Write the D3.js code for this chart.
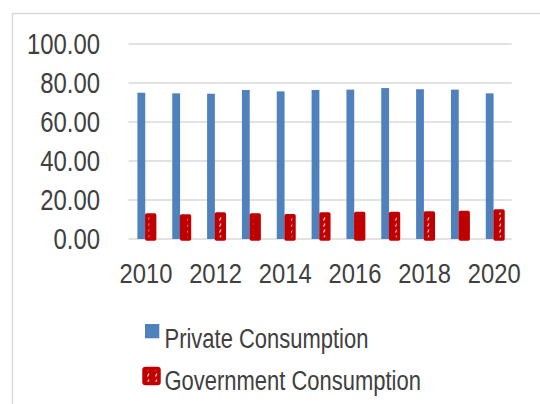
<!DOCTYPE html>
<html>
<head>
<meta charset="utf-8">
<script src="https://cdn.jsdelivr.net/npm/d3@7"></script>
<style>
  body { margin: 0; background: #fff; }
  svg text { font-family: "Liberation Sans Narrow", "Arial Narrow", "Liberation Sans", sans-serif; fill: #404040; }
</style>
</head>
<body>
<div id="chart"></div>
<script>
var years = [2010, 2011, 2012, 2013, 2014, 2015, 2016, 2017, 2018, 2019, 2020];
var privateConsumption = [75.0, 74.7, 74.5, 76.4, 75.7, 76.4, 76.6, 77.4, 76.8, 76.6, 74.7];
var governmentConsumption = [12.3, 11.8, 12.8, 12.3, 11.9, 12.8, 13.1, 13.1, 13.3, 13.6, 14.4];
var yTicks = [0, 20, 40, 60, 80, 100];
var xTickLabels = [2010, 2012, 2014, 2016, 2018, 2020];
var seriesNames = ["Private Consumption", "Government Consumption"];

var width = 540, height = 404;
var blue = "#4f81bd", red = "#c00000";
// no narrow font installed, so squeeze regular sans horizontally
var ySqueeze = "scale(0.81,1)", xSqueeze = "scale(0.85,1)", legendSqueeze = "scale(0.785,1)";

var svg = d3.select("#chart").append("svg")
    .attr("width", width)
    .attr("height", height);

// hatched fill for the government bars
var pat = svg.append("defs").append("pattern")
    .attr("id", "hatch")
    .attr("patternUnits", "userSpaceOnUse")
    .attr("width", 8)
    .attr("height", 6);
pat.append("rect").attr("width", 8).attr("height", 6).attr("fill", red);
pat.append("path")
    .attr("d", "M3.5,4.5 L5,1.5")
    .attr("stroke", "#f4d6d6")
    .attr("stroke-width", 1.3);

// outer chart border
svg.append("rect")
    .attr("x", 12.5).attr("y", 13.5)
    .attr("width", 600).attr("height", 600)
    .attr("fill", "none")
    .attr("stroke", "#d9d9d9")
    .attr("stroke-width", 1.5);

var x = d3.scaleBand().domain(years).range([128.5, 511.7]).padding(0);
var y = d3.scaleLinear().domain([0, 100]).range([239, 44]);

var g = svg.append("g");

// gridlines
g.selectAll(".grid")
    .data(yTicks).enter().append("line")
    .attr("class", "grid")
    .attr("x1", x.range()[0]).attr("x2", x.range()[1])
    .attr("y1", function(d) { return y(d); })
    .attr("y2", function(d) { return y(d); })
    .attr("stroke", "#d9d9d9")
    .attr("stroke-width", 1.5);

// y axis labels
var yAxis = d3.axisLeft(y).tickValues(yTicks).tickFormat(d3.format(".2f")).tickSize(0).tickPadding(0);
var ya = svg.append("g").attr("transform", "translate(100,0)").call(yAxis);
ya.select(".domain").remove();
ya.selectAll("text")
    .style("font-size", "29.5px")
    .attr("fill", "#404040")
    .attr("x", 0)
    .attr("transform", ySqueeze);

var bw = 7.8;

g.selectAll(".priv")
    .data(privateConsumption).enter().append("rect")
    .attr("class", "priv")
    .attr("x", function(d, i) { return x(years[i]) + x.bandwidth() / 2 - bw - 0.7; })
    .attr("y", function(d) { return y(d); })
    .attr("width", bw)
    .attr("height", function(d) { return y(0) - y(d); })
    .attr("fill", blue);

g.selectAll(".gov")
    .data(governmentConsumption).enter().append("rect")
    .attr("class", "gov")
    .attr("x", function(d, i) { return x(years[i]) + x.bandwidth() / 2 + 0.9; })
    .attr("y", function(d) { return y(d); })
    .attr("width", bw)
    .attr("height", function(d) { return y(0) - y(d); })
    .attr("fill", "url(#hatch)")
    .attr("stroke", red)
    .attr("stroke-width", 3.5)
    .attr("stroke-linejoin", "round");

// x axis labels
var xAxis = d3.axisBottom(x).tickValues(xTickLabels).tickSize(0).tickPadding(0);
var xa = svg.append("g").attr("transform", "translate(0,263)").call(xAxis);
xa.select(".domain").remove();
xa.selectAll("text")
    .style("font-size", "28px")
    .attr("fill", "#404040")
    .attr("dy", "0.72em")
    .attr("transform", xSqueeze);

// legend
var legend = svg.append("g");
legend.append("rect")
    .attr("x", 145).attr("y", 324)
    .attr("width", 14.3).attr("height", 14.3)
    .attr("fill", blue);
legend.append("rect")
    .attr("x", 144).attr("y", 368.5)
    .attr("width", 15).attr("height", 15)
    .attr("rx", 1.5)
    .attr("fill", "url(#hatch)")
    .attr("stroke", red)
    .attr("stroke-width", 3.5)
    .attr("stroke-linejoin", "round");
legend.selectAll(".ltext")
    .data(seriesNames).enter().append("g")
    .attr("class", "ltext")
    .attr("transform", function(d, i) { return "translate(164.5," + (347.5 + i * 42.5) + ")"; })
    .append("text")
    .attr("transform", legendSqueeze)
    .style("font-size", "28px")
    .text(function(d) { return d; });
</script>
</body>
</html>
